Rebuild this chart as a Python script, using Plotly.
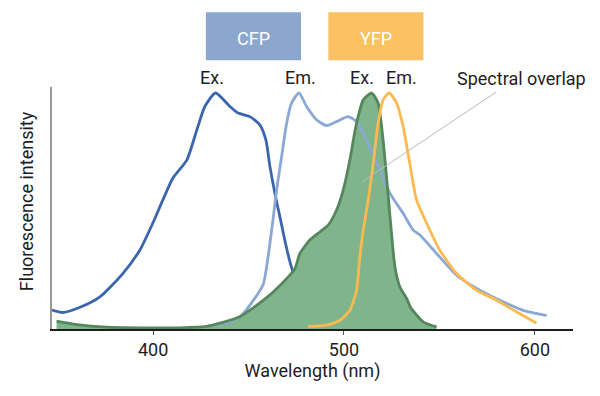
import plotly.graph_objects as go

# CFP excitation (dark blue)
cfp_ex_wl = [347, 352.7, 362, 372.1, 384.1, 393.0, 399.8, 405.1, 410.3, 417.7, 422.9, 427.1,
             432.7, 440.2, 444.5, 450.7, 455.9, 459.1, 461.2, 463.8, 466.4, 473.4, 486, 499.4]
cfp_ex_val = [0.08, 0.07, 0.093, 0.136, 0.235, 0.334, 0.448, 0.547, 0.639, 0.717, 0.844, 0.943,
              1.0, 0.943, 0.915, 0.90, 0.865, 0.80, 0.688, 0.575, 0.476, 0.242, 0.11, 0.0]

# CFP emission (light blue)
cfp_em_wl = [427, 435, 440, 445.4, 452.4, 457.7, 460.3, 462.9, 464.7, 467.3, 469.9, 472.5, 476.4,
             480.4, 485.6, 490.9, 496.1, 502.2, 507.4, 511.8, 518.8, 524.1, 531.0, 536.3,
             539.8, 548.5, 559.0, 571.2, 583.4, 593.9, 606.2]
cfp_em_val = [0.01, 0.02, 0.03, 0.05, 0.12, 0.19, 0.31, 0.47, 0.59, 0.73, 0.87, 0.957, 1.0,
              0.943, 0.887, 0.862, 0.879, 0.90, 0.873, 0.80, 0.674, 0.575, 0.49, 0.419,
              0.398, 0.32, 0.228, 0.164, 0.115, 0.079, 0.057]

# YFP excitation (green, filled)
yfp_ex_wl = [349.4, 359, 375.6, 398.3, 414, 428.0, 435, 445.4, 454.2, 462.9, 471.6, 474.3, 476.9,
             482.1, 487.4, 491.7, 496.1, 499.6, 503.1, 505.7, 507.4, 510.1, 514.5, 517.9,
             519.7, 521.5, 523.2, 524.9, 526.7, 529.3, 532.8, 535, 538, 541.5, 546, 548.5]
yfp_ex_val = [0.033, 0.02, 0.008, 0.005, 0.005, 0.011, 0.025, 0.052, 0.10, 0.157, 0.228, 0.256, 0.32,
              0.377, 0.412, 0.44, 0.504, 0.589, 0.717, 0.837, 0.90, 0.971, 1.0, 0.957,
              0.858, 0.717, 0.56, 0.405, 0.263, 0.178, 0.13, 0.09, 0.06, 0.03, 0.015, 0.01]

# YFP emission (yellow)
yfp_em_wl = [481.2, 490.9, 497.9, 503.1, 506.6, 508.3, 510.1, 512.7, 515.3, 517.9, 520.5, 523.7,
             527.6, 531.0, 534.5, 538.0, 543.3, 550.2, 559.0, 569.5, 580.0, 590.5, 600.9]
yfp_em_val = [0.011, 0.016, 0.037, 0.079, 0.164, 0.306, 0.419, 0.547, 0.70, 0.873, 0.971, 1.0,
              0.957, 0.858, 0.70, 0.547, 0.448, 0.334, 0.235, 0.164, 0.122, 0.072, 0.025]

x_ticks = [400, 500, 600]
peak_labels = ["Ex.", "Em.", "Ex.", "Em."]
peak_label_wl = [430.8, 477.4, 509.4, 530.3]
legend_names = ["CFP", "YFP"]

FONT = "Roboto, 'DejaVu Sans', sans-serif"
DARK_BLUE = "#3B65AC"
LIGHT_BLUE = "#8AA8D3"
GREEN_LINE = "#55865C"
GREEN_FILL = "#80B48B"
YELLOW = "#FBBA50"
TXT = "#1E1E1E"
FS = 18

# page has an 8px body margin: figure is drawn at offset (8, 8)
OFF = 8
FW, FH = 584, 380
L, R, T, B = 52.3, 572.7, 87.3, 328.7   # plot area in window pixels
PW, PH = R - L, B - T


def px_x(px):
    return (px - L) / PW


def px_y(py):
    return (B - py) / PH


LW = 2.8
fig = go.Figure()
fig.add_trace(go.Scatter(x=cfp_ex_wl, y=cfp_ex_val, mode="lines",
                         line=dict(color=DARK_BLUE, width=LW, shape="spline", smoothing=0.6)))
fig.add_trace(go.Scatter(x=yfp_ex_wl, y=yfp_ex_val, mode="lines", fill="tozeroy",
                         fillcolor=GREEN_FILL, line=dict(color=GREEN_FILL, width=0, shape="spline", smoothing=0.6)))
fig.add_trace(go.Scatter(x=cfp_em_wl, y=cfp_em_val, mode="lines",
                         line=dict(color=LIGHT_BLUE, width=LW, shape="spline", smoothing=0.6)))
fig.add_trace(go.Scatter(x=yfp_ex_wl, y=yfp_ex_val, mode="lines",
                         line=dict(color=GREEN_LINE, width=LW, shape="spline", smoothing=0.6)))
fig.add_trace(go.Scatter(x=yfp_em_wl, y=yfp_em_val, mode="lines",
                         line=dict(color=YELLOW, width=LW, shape="spline", smoothing=0.6)))

# legend boxes
box_px = [(206, 301), (328.3, 423.3)]
box_col = ["#8BA7CE", "#FBC162"]
for name, (a, b), col in zip(legend_names, box_px, box_col):
    fig.add_shape(type="rect", xref="paper", yref="paper", x0=px_x(a), x1=px_x(b),
                  y0=px_y(60.7), y1=px_y(12.7), fillcolor=col, line=dict(width=0), layer="above")
    fig.add_annotation(xref="paper", yref="paper", x=px_x((a + b) / 2), y=px_y(38.5), text=name,
                       showarrow=False, font=dict(family=FONT, size=FS, color="white"),
                       xanchor="center", yanchor="middle")

for lab, wl in zip(peak_labels, peak_label_wl):
    fig.add_annotation(x=wl, xref="x", yref="paper", y=px_y(77.5), text=lab, showarrow=False,
                       font=dict(family=FONT, size=FS, color=TXT),
                       xanchor="center", yanchor="middle")

# spectral overlap
fig.add_shape(type="line", xref="paper", yref="paper", x0=px_x(496), y0=px_y(92.3),
              x1=px_x(362.3), y1=px_y(181.7), line=dict(color="#BBBBBB", width=1), layer="above")
fig.add_annotation(xref="paper", yref="paper", x=px_x(521.3), y=px_y(78.5), text="Spectral overlap",
                   showarrow=False, font=dict(family=FONT, size=FS, color=TXT),
                   xanchor="center", yanchor="middle")

# y-axis title placed as rotated text
fig.add_annotation(xref="paper", yref="paper", x=px_x(27.5), y=px_y(201), text="Fluorescence intensity",
                   showarrow=False, textangle=-90, font=dict(family=FONT, size=FS, color=TXT),
                   xanchor="center", yanchor="middle")

fig.update_layout(
    width=FW, height=FH,
    margin=dict(l=L - OFF, r=FW - (R - OFF), t=T - OFF, b=FH - (B - OFF), autoexpand=False),
    plot_bgcolor="white", paper_bgcolor="white",
    showlegend=False,
    font=dict(family=FONT, color=TXT),
    xaxis=dict(range=[347, 620], tickvals=x_ticks, ticktext=[str(v) for v in x_ticks],
               showgrid=False, zeroline=False, showline=True, linecolor="#1E1E1E", linewidth=1.5,
               ticks="outside", ticklen=4, tickcolor="#555555", tickwidth=1, automargin=False,
               tickfont=dict(family=FONT, size=FS, color=TXT),
               title=dict(text="Wavelength (nm)", font=dict(family=FONT, size=FS, color=TXT), standoff=1)),
    yaxis=dict(range=[0, 1.0255], showticklabels=False, showgrid=False, zeroline=False,
               showline=True, linecolor="#999999", linewidth=2, ticks="", automargin=False),
)

fig.write_html("out.html")
